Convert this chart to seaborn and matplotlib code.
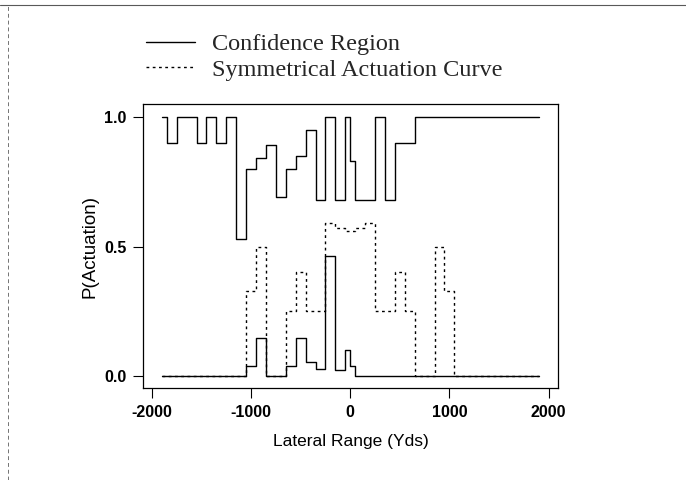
import matplotlib
matplotlib.use("Agg")
import matplotlib.pyplot as plt
from matplotlib.lines import Line2D
import seaborn as sns
import numpy as np

# ---- data ----
# bin edges of lateral range (yds)
bin_edges = [-1900, -1850, -1750, -1650, -1550, -1450, -1350, -1250, -1150, -1050,
             -950, -850, -750, -650, -550, -450, -350, -250, -150, -50,
             0, 50, 150, 250, 350, 450, 550, 650, 750, 850,
             950, 1050, 1150, 1250, 1350, 1450, 1550, 1650, 1750, 1850, 1900]

# upper confidence bound per bin
upper_bound = [1.0, 0.9, 1.0, 1.0, 0.9, 1.0, 0.9, 1.0, 0.53, 0.80,
               0.84, 0.89, 0.69, 0.80, 0.85, 0.95, 0.68, 1.0, 0.68, 1.0,
               0.83, 0.68, 0.68, 1.0, 0.68, 0.90, 0.90, 1.0, 1.0, 1.0,
               1.0, 1.0, 1.0, 1.0, 1.0, 1.0, 1.0, 1.0, 1.0, 1.0]

# lower confidence bound per bin
lower_bound = [0.0, 0.0, 0.0, 0.0, 0.0, 0.0, 0.0, 0.0, 0.0, 0.04,
               0.146, 0.0, 0.0, 0.04, 0.146, 0.053, 0.027, 0.465, 0.025, 0.10,
               0.04, 0.0, 0.0, 0.0, 0.0, 0.0, 0.0, 0.0, 0.0, 0.0,
               0.0, 0.0, 0.0, 0.0, 0.0, 0.0, 0.0, 0.0, 0.0, 0.0]

# symmetrical actuation curve per bin
sym_curve = [0.0, 0.0, 0.0, 0.0, 0.0, 0.0, 0.0, 0.0, 0.0, 0.33,
             0.50, 0.0, 0.0, 0.25, 0.40, 0.25, 0.25, 0.59, 0.57, 0.56,
             0.56, 0.57, 0.59, 0.25, 0.25, 0.40, 0.25, 0.0, 0.0, 0.50,
             0.33, 0.0, 0.0, 0.0, 0.0, 0.0, 0.0, 0.0, 0.0, 0.0]

x_ticks = [-2000, -1000, 0, 1000, 2000]
x_tick_labels = ["-2000", "-1000", "0", "1000", "2000"]
y_ticks = [0.0, 0.5, 1.0]
y_tick_labels = ["0.0", "0.5", "1.0"]

# ---- style ----
sns.set_style("ticks")
plt.rcParams["font.family"] = ["Liberation Sans", "DejaVu Sans"]

fig = plt.figure(figsize=(6.86, 4.80), dpi=100)
ax = fig.add_axes([143 / 686, 92 / 480, 415 / 686, 284 / 480])

def steps(vals):
    return list(vals) + [vals[-1]]

conf_style = dict(color="black", linewidth=1.0)
sym_style = dict(color="black", linewidth=1.0, linestyle=(0, (2.0, 2.5)))

sns.lineplot(x=bin_edges, y=steps(upper_bound), drawstyle="steps-post",
             estimator=None, sort=False, ax=ax, **conf_style)
sns.lineplot(x=bin_edges, y=steps(lower_bound), drawstyle="steps-post",
             estimator=None, sort=False, ax=ax, **conf_style)
sns.lineplot(x=bin_edges, y=steps(sym_curve), drawstyle="steps-post",
             estimator=None, sort=False, ax=ax, **sym_style)

ax.set_xlim(-2090, 2095)
ax.set_ylim(-0.046, 1.05)
ax.set_xticks(x_ticks)
ax.set_xticklabels(x_tick_labels)
ax.set_yticks(y_ticks)
ax.set_yticklabels(y_tick_labels)
ax.tick_params(axis="both", direction="out", length=7, width=0.8,
               labelsize=11.5, pad=5, colors="black")
for lab in ax.get_xticklabels() + ax.get_yticklabels():
    lab.set_fontweight("bold")
for sp in ax.spines.values():
    sp.set_visible(True)
    sp.set_linewidth(0.9)
    sp.set_color("black")

ax.set_xlabel("Lateral Range (Yds)", fontsize=12.5, labelpad=10, color="black")
ax.set_ylabel("P(Actuation)", fontsize=13.5, labelpad=4, color="black")

handles = [Line2D([], [], **conf_style), Line2D([], [], **sym_style)]
fig.legend(handles, ["Confidence Region", "Symmetrical Actuation Curve"],
           loc="upper left", bbox_to_anchor=(146 / 686, 1 - 33 / 480),
           frameon=False, borderpad=0, borderaxespad=0,
           handlelength=2.0, handletextpad=0.7, labelspacing=0.15,
           prop={"family": "Liberation Serif", "size": 17.5})

# scanned page frame lines
fig.add_artist(Line2D([0.0, 1.0], [1 - 5 / 480, 1 - 5 / 480], transform=fig.transFigure,
                      color="0.35", linewidth=0.8))
fig.add_artist(Line2D([8 / 686, 8 / 686], [0.0, 1 - 5 / 480], transform=fig.transFigure,
                      color="0.45", linewidth=0.7, linestyle=(0, (4, 3))))

fig.savefig("out.png", dpi=100)
